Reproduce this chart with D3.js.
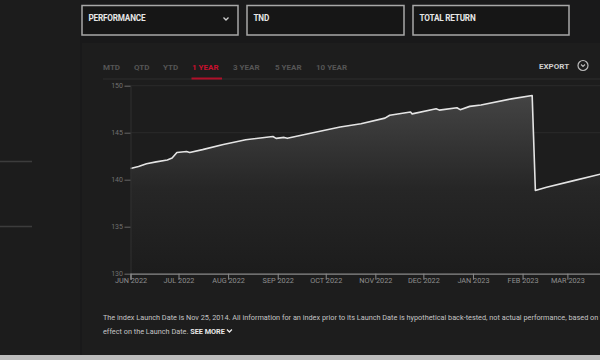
<!DOCTYPE html>
<html><head><meta charset="utf-8">
<script src="https://cdn.jsdelivr.net/npm/d3@7/dist/d3.min.js"></script>
<style>
html,body{margin:0;padding:0;background:#19191a;overflow:hidden;}
svg{display:block;font-family:Roboto,"Liberation Sans",sans-serif;}
</style></head>
<body>
<svg id="c" width="600" height="360"></svg>
<script>
// ---- data ----
const dates = ["2022-06-01","2022-06-06","2022-06-11","2022-06-17","2022-06-24","2022-06-27","2022-06-30",
  "2022-07-06","2022-07-08","2022-07-16","2022-07-29","2022-08-12","2022-08-29","2022-08-31","2022-09-05",
  "2022-09-07","2022-09-23","2022-10-10","2022-10-23","2022-11-07","2022-11-10","2022-11-23","2022-11-24",
  "2022-12-09","2022-12-11","2022-12-22","2022-12-24","2022-12-30","2023-01-06","2023-01-25","2023-02-07",
  "2023-02-09","2023-02-16","2023-03-05","2023-03-22","2023-03-26"];
const values = [141.2,141.4,141.7,141.9,142.1,142.3,142.9,
  143.0,142.9,143.2,143.75,144.25,144.6,144.4,144.5,
  144.4,145.0,145.6,145.95,146.55,146.85,147.2,147.0,
  147.55,147.4,147.65,147.45,147.8,147.95,148.6,148.95,
  138.85,139.2,139.9,140.6,140.75];
const yTicks = [130,135,140,145,150];
const gridTicks = [145,150];
const tabs = ["MTD","QTD","YTD","1 YEAR","3 YEAR","5 YEAR","10 YEAR"];
const activeTab = "1 YEAR";
const dropdowns = ["PERFORMANCE","TND","TOTAL RETURN"];
const footnote1 = "The index Launch Date is Nov 25, 2014. All information for an index prior to its Launch Date is hypothetical back-tested, not actual performance, based on the index methodology in";
const footnote2 = "effect on the Launch Date.";

const parse = d3.timeParse("%Y-%m-%d");
const data = dates.map((d,i)=>({date:parse(d), value:values[i]}));

const svg = d3.select("#c");
// backgrounds
svg.append("rect").attr("x",0).attr("y",0).attr("width",600).attr("height",360).attr("fill","#19191a");
svg.append("rect").attr("x",0).attr("y",0).attr("width",80).attr("height",360).attr("fill","#1c1c1c");
svg.append("rect").attr("x",82).attr("y",43).attr("width",518).attr("height",312).attr("fill","#1d1d1d");
svg.append("rect").attr("x",0).attr("y",355).attr("width",600).attr("height",5).attr("fill","#bdbdbd");
// sidebar lines
[161.5,226.5].forEach(y=>svg.append("line").attr("x1",0).attr("x2",32).attr("y1",y).attr("y2",y)
  .attr("stroke","#3c3c3c").attr("stroke-width",1.5));

// dropdowns
const boxX = [82,247,413], boxW=[156,157,156];
dropdowns.forEach((t,i)=>{
  svg.append("rect").attr("x",boxX[i]).attr("y",5.5).attr("width",boxW[i]).attr("height",29.5)
    .attr("fill","#161616").attr("stroke","#a8a8a8").attr("stroke-width",1.5);
  svg.append("text").attr("x",boxX[i]+6.5).attr("y",21).attr("fill","#e6e6e6")
    .attr("font-size",8.2).attr("font-weight",700).attr("letter-spacing",-0.2).text(t);
});
svg.append("path").attr("d","M223.5,17.5 L226,20 L228.5,17.5").attr("fill","none").attr("stroke","#cfcfcf").attr("stroke-width",1.3);

// tabs
const tabX = [103,134,163,192,233,275,316];
tabs.forEach((t,i)=>{
  svg.append("text").attr("x",tabX[i]).attr("y",70).attr("font-size",8).attr("font-weight",700)
    .attr("fill", t===activeTab ? "#c8102e" : "#555").text(t);
});
svg.append("line").attr("x1",103).attr("x2",600).attr("y1",79).attr("y2",79).attr("stroke","#2e2e2e").attr("stroke-width",1);
svg.append("line").attr("x1",191.5).attr("x2",222).attr("y1",78.5).attr("y2",78.5).attr("stroke","#b0102a").attr("stroke-width",2);
svg.append("text").attr("x",539).attr("y",69).attr("font-size",8).attr("font-weight",700).attr("fill","#cfcfcf").text("EXPORT");
svg.append("circle").attr("cx",583).attr("cy",65.5).attr("r",5).attr("fill","none").attr("stroke","#bbb").attr("stroke-width",1.2);
svg.append("path").attr("d","M581,64.5 L583,66.5 L585,64.5").attr("fill","none").attr("stroke","#bbb").attr("stroke-width",1.1);

// scales
const x = d3.scaleTime().domain([parse("2022-06-01"), parse("2023-05-31")]).range([130.5, 713]);
const y = d3.scaleLinear().domain([130,150]).range([273.7,85.7]);

const chart = svg.append("g");
// gradient
const defs = svg.append("defs");
const grad = defs.append("linearGradient").attr("id","ag").attr("gradientUnits","userSpaceOnUse")
  .attr("x1",0).attr("x2",0).attr("y1",y(150)).attr("y2",y(130));
grad.append("stop").attr("offset","0%").attr("stop-color","#474747");
grad.append("stop").attr("offset","55%").attr("stop-color","#262626");
grad.append("stop").attr("offset","100%").attr("stop-color","#1c1c1c");

// gridlines
chart.append("g").selectAll("line").data(gridTicks).join("line")
  .attr("x1",130.5).attr("x2",600).attr("y1",d=>y(d)).attr("y2",d=>y(d))
  .attr("stroke","#2b2b2b").attr("stroke-width",1);

// area + line
chart.append("path").datum(data)
  .attr("d", d3.area().x(d=>x(d.date)).y0(y(130)).y1(d=>y(d.value)))
  .attr("fill","url(#ag)");
chart.append("path").datum(data)
  .attr("d", d3.line().x(d=>x(d.date)).y(d=>y(d.value)))
  .attr("fill","none").attr("stroke","#e4e4e4").attr("stroke-width",1.6).attr("stroke-linejoin","round");

// y axis
const yAxis = chart.append("g").attr("transform","translate(130.5,0)")
  .call(d3.axisLeft(y).tickValues(yTicks).tickSize(6).tickPadding(1.5));
yAxis.select(".domain").attr("stroke","#303030");
yAxis.selectAll(".tick line").attr("stroke","#666");
yAxis.selectAll("text").attr("fill","#707070").attr("font-size",7).attr("font-family","Roboto,sans-serif");

// x axis (only months visible in the 600px window)
const fmt = d3.timeFormat("%b %Y");
const monthTicks = x.ticks(d3.timeMonth.every(1)).filter(d=>x(d) < 590);
const xAxis = chart.append("g").attr("transform",`translate(0,${y(130)})`)
  .call(d3.axisBottom(x).tickValues(monthTicks).tickFormat(d=>fmt(d).toUpperCase()).tickSize(6).tickPadding(-1.5));
xAxis.select(".domain").attr("stroke","#8a8a8a").attr("stroke-width",1.2);
xAxis.selectAll(".tick line").attr("stroke","#8a8a8a");
xAxis.selectAll("text").attr("fill","#8f8f8f").attr("font-size",7.3).attr("font-family","Roboto,sans-serif");

// footnote
svg.append("text").attr("x",103).attr("y",320).attr("font-size",7.3).attr("fill","#c4c4c4").text(footnote1);
const f2 = svg.append("text").attr("x",103).attr("y",333.5).attr("font-size",7.3).attr("fill","#c4c4c4");
f2.append("tspan").text(footnote2+" ");
f2.append("tspan").attr("font-weight",700).attr("fill","#e8e8e8").text("SEE MORE");
const bb = f2.node().getBBox();
svg.append("path").attr("d",`M${bb.x+bb.width+2},329.5 L${bb.x+bb.width+4.5},332 L${bb.x+bb.width+7},329.5`)
  .attr("fill","none").attr("stroke","#e8e8e8").attr("stroke-width",1.3);
</script>
</body></html>
